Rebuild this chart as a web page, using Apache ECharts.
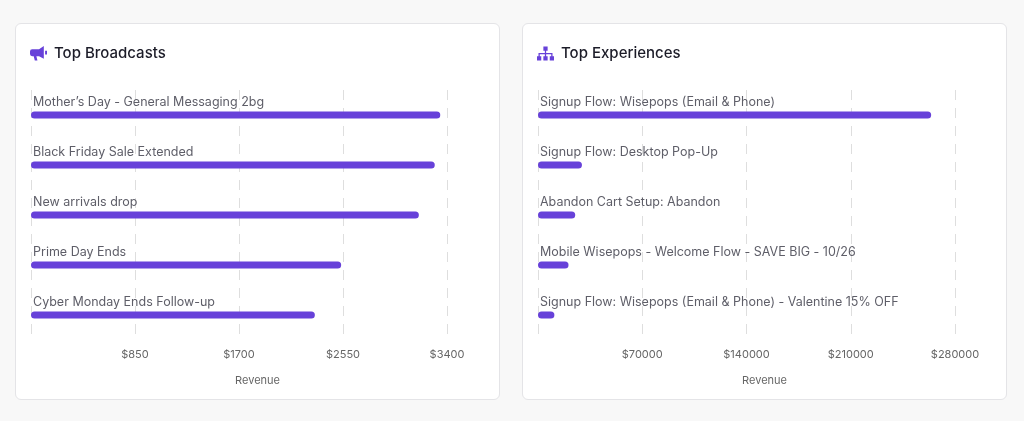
<!DOCTYPE html>
<html>
<head>
<meta charset="utf-8">
<script src="https://cdn.jsdelivr.net/npm/echarts@6/dist/echarts.min.js"></script>
<style>
html,body{margin:0;padding:0;background:#f8f8f8;width:1024px;height:421px;overflow:hidden;font-family:Inter,"Noto Sans",sans-serif;}
.card{position:absolute;top:23px;width:483px;height:375px;background:#fff;border:1px solid #e4e4e7;border-radius:6px;box-sizing:content-box;}
.chart{position:absolute;left:0;top:0;width:483px;height:375px;}
.icon{position:absolute;left:14px;top:22px;width:17px;height:15px;z-index:2;}
</style>
</head>
<body>
<div class="card" style="left:15px">
  <svg class="icon" viewBox="0 0 16 14"><path fill="#6741d9" d="M13 0 L13 12 L8.5 9.5 L6 9.5 L7 13.5 L4.5 13.5 L3.5 9.5 L2 9.5 Q0 9.5 0 7.5 L0 5 Q0 3 2 3 L8.5 3 Z M14.2 4.5 L16 4.5 L16 8 L14.2 8 Z"/></svg>
  <div id="c1" class="chart"></div>
</div>
<div class="card" style="left:522px">
  <svg class="icon" viewBox="0 0 16 13"><path fill="#6741d9" d="M6 0 H10 V4 H8.6 V6 H14.6 V9 H16 V13 H12 V9 H13.4 V7.2 H8.6 V9 H10 V13 H6 V9 H7.4 V7.2 H2.6 V9 H4 V13 H0 V9 H1.4 V6 H7.4 V4 H6 Z"/></svg>
  <div id="c2" class="chart"></div>
</div>
<script>
// Data
const broadcastCategories = ["Mother’s Day - General Messaging 2bg","Black Friday Sale Extended","New arrivals drop","Prime Day Ends","Cyber Monday Ends Follow-up"];
const broadcastRevenue = [3345, 3300, 3170, 2535, 2320];
const broadcastTicks = {min:0, max:3400, interval:850};

const experienceCategories = ["Signup Flow: Wisepops (Email & Phone)","Signup Flow: Desktop Pop-Up","Abandon Cart Setup: Abandon","Mobile Wisepops - Welcome Flow - SAVE BIG - 10/26","Signup Flow: Wisepops (Email & Phone) - Valentine 15% OFF"];
const experienceRevenue = [264000, 29500, 25000, 20500, 11000];
const experienceTicks = {min:0, max:280000, interval:70000};

const PURPLE = '#6741d9';

function build(el, title, cats, vals, ticks, gridRight){
  const chart = echarts.init(document.getElementById(el), null, {renderer:'canvas'});
  chart.setOption({
    animation:false,
    title:{text:title, left:38, top:22, padding:0, textStyle:{fontFamily:'Inter', fontSize:15, fontWeight:500, color:'#1c1c28'}},
    graphic:[
      {type:'text', left:'center', top:351, style:{text:'Revenue', fontFamily:'Inter', fontSize:11, fill:'#666'}}
    ],
    grid:{left:15, right:gridRight, top:66, bottom:59, containLabel:false},
    xAxis:{type:'value', min:ticks.min, max:ticks.max, interval:ticks.interval,
      axisLine:{show:false}, axisTick:{show:false},
      splitLine:{show:true, lineStyle:{color:'#dedede', type:[10,8], width:1}},
      axisLabel:{showMinLabel:false, margin:9, fontFamily:'Inter', fontSize:11, color:'#666', formatter:v=>'$'+v}
    },
    yAxis:{type:'category', data:cats, inverse:true, axisLine:{show:false}, axisTick:{show:false}, axisLabel:{show:false}, splitLine:{show:false}},
    series:[{type:'bar', data:vals, barWidth:7, itemStyle:{color:PURPLE, borderRadius:4},
      label:{show:true, formatter:'{b}', position:[2,-3], align:'left', verticalAlign:'bottom', fontFamily:'Inter', fontSize:12.5, color:'#5e5e68'}
    }]
  });
}
build('c1','Top Broadcasts',broadcastCategories,broadcastRevenue,broadcastTicks,52);
build('c2','Top Experiences',experienceCategories,experienceRevenue,experienceTicks,51);
</script>
</body>
</html>
